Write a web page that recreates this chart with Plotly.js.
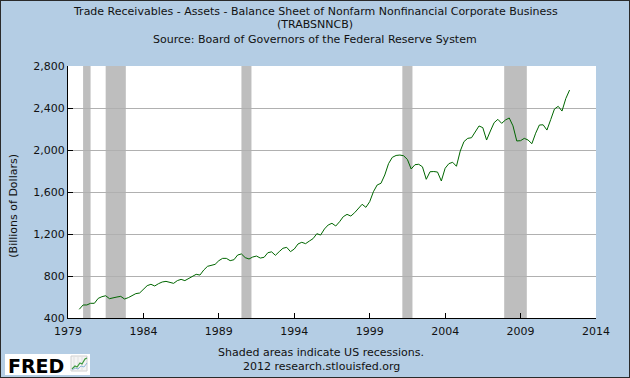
<!DOCTYPE html>
<html>
<head>
<meta charset="utf-8">
<script src="https://cdn.plot.ly/plotly-3.0.1.min.js"></script>
<style>
  html, body { margin: 0; padding: 0; background: #B4CDE4; }
  #chart { width: 628px; height: 376px; border: 1px solid #2a2a2a; }
</style>
</head>
<body>
<div id="chart"></div>
<script>
// ---- Data (quarterly, first quarter = 1979 Q4) ----
const firstYear = 1979;
const firstQuarter = 4;
const values = [
  483,
  524, 524, 540, 540,      // 1980
  587, 603, 612, 584,      // 1981
  594, 600, 606, 581,      // 1982
  594, 612, 632, 638,      // 1983
  676, 708, 721, 705,      // 1984
  727, 743, 749, 740,      // 1985
  730, 756, 768, 756,      // 1986
  778, 797, 816, 809,      // 1987
  857, 892, 898, 911,      // 1988
  946, 968, 968, 946,      // 1989
  955, 1000, 1010, 975,    // 1990
  962, 981, 990, 971,      // 1991
  978, 1022, 1030, 997,    // 1992
  1032, 1064, 1073, 1032,  // 1993
  1057, 1105, 1121, 1108,  // 1994
  1133, 1156, 1203, 1190,  // 1995
  1248, 1286, 1302, 1276,  // 1996
  1317, 1365, 1387, 1371,  // 1997
  1403, 1444, 1483, 1454,  // 1998
  1508, 1603, 1667, 1683,  // 1999
  1762, 1870, 1930, 1948,  // 2000
  1952, 1945, 1910, 1819,  // 2001
  1860, 1864, 1840, 1721,  // 2002
  1793, 1795, 1790, 1705,  // 2003
  1826, 1870, 1883, 1845,  // 2004
  1990, 2080, 2111, 2117,  // 2005
  2174, 2229, 2213, 2095,  // 2006
  2181, 2260, 2292, 2254,  // 2007
  2286, 2305, 2230, 2086,  // 2008
  2089, 2111, 2095, 2060,  // 2009
  2160, 2238, 2240, 2190,  // 2010
  2290, 2390, 2416, 2371,  // 2011
  2490, 2571              // 2012
];

const recessionStarts = ['1980-01-01', '1981-07-01', '1990-07-01', '2001-03-01', '2007-12-01'];
const recessionEnds   = ['1980-07-01', '1982-11-01', '1991-03-01', '2001-11-01', '2009-06-01'];

const xTickYears = [1979, 1984, 1989, 1994, 1999, 2004, 2009, 2014];
const yTickValues = [400, 800, 1200, 1600, 2000, 2400, 2800];
const yTickLabels = ['400', '800', '1,200', '1,600', '2,000', '2,400', '2,800'];

const titleLines = [
  'Trade Receivables - Assets - Balance Sheet of Nonfarm Nonfinancial Corporate Business',
  '(TRABSNNCB)',
  'Source: Board of Governors of the Federal Reserve System'
];
const footerLines = ['Shaded areas indicate US recessions.', '2012 research.stlouisfed.org'];
const yTitle = '(Billions of Dollars)';
const logoText = 'FRED';

// ---- Build dates ----
const dates = values.map((v, i) => {
  const q = (firstQuarter - 1) + i;
  const y = firstYear + Math.floor(q / 4);
  const m = (q % 4) * 3 + 1;
  return y + '-' + String(m).padStart(2, '0') + '-01';
});

// ---- pixel helpers (figure px -> paper) ----
const W = 628, H = 376, ML = 67, MR = 33, MT = 65, MB = 59;
const PW = W - ML - MR, PH = H - MT - MB;
const px = x => (x - ML) / PW;
const py = y => (H - MB - y) / PH;
const pathFrom = pts => pts.map((p, i) => (i ? 'L' : 'M') + px(p[0]).toFixed(5) + ',' + py(p[1]).toFixed(5)).join(' ');

const FONT = 'DejaVu Sans, Verdana, sans-serif';

const shapes = recessionStarts.map((s, i) => ({
  type: 'rect', xref: 'x', yref: 'paper', x0: s, x1: recessionEnds[i], y0: 0, y1: 1,
  fillcolor: '#BEBEBE', line: { width: 0 }, layer: 'between'
}));
// FRED logo box
shapes.push({
  type: 'rect', xref: 'paper', yref: 'paper',
  x0: px(4), x1: px(89), y0: py(353), y1: py(374),
  fillcolor: '#FFFFFF', line: { width: 0 }, layer: 'above'
});
// logo icon: faint frame + columns + two rising lines
shapes.push({
  type: 'rect', xref: 'paper', yref: 'paper',
  x0: px(70), x1: px(86), y0: py(355), y1: py(370),
  fillcolor: '#F4F4F4', line: { color: '#D0D0D0', width: 1 }, layer: 'above'
});
[73, 77, 81].forEach(cx => shapes.push({
  type: 'line', xref: 'paper', yref: 'paper',
  x0: px(cx), x1: px(cx), y0: py(356), y1: py(369),
  line: { color: '#E0E0E0', width: 1 }, layer: 'above'
}));
shapes.push({
  type: 'path', xref: 'paper', yref: 'paper', layer: 'above',
  path: pathFrom([[71, 368], [74, 365], [76, 366], [79, 362], [81, 363], [84, 358], [86, 357]]),
  line: { color: '#3C9A3C', width: 1.2 }
});
shapes.push({
  type: 'path', xref: 'paper', yref: 'paper', layer: 'above',
  path: pathFrom([[71, 369], [74, 367], [77, 368], [80, 365], [83, 366], [86, 362]]),
  line: { color: '#8FB8D8', width: 1 }
});

const annotations = [];
const titleY = [10.7, 24, 38.3];
titleLines.forEach((t, i) => annotations.push({
  text: t, xref: 'paper', yref: 'paper', x: px(314), y: py(titleY[i]),
  xanchor: 'center', yanchor: 'middle', showarrow: false,
  font: { family: FONT, size: 11, color: '#111' }
}));
const footY = [351, 365];
footerLines.forEach((t, i) => annotations.push({
  text: t, xref: 'paper', yref: 'paper', x: px(320), y: py(footY[i]),
  xanchor: 'center', yanchor: 'middle', showarrow: false,
  font: { family: FONT, size: 11, color: '#111' }
}));
annotations.push({
  text: yTitle, xref: 'paper', yref: 'paper', x: px(13), y: py(204.7),
  xanchor: 'center', yanchor: 'middle', textangle: -90, showarrow: false,
  font: { family: FONT, size: 11, color: '#111' }
});
annotations.push({
  text: '<b>' + logoText + '</b>', xref: 'paper', yref: 'paper', x: px(5), y: py(364.5),
  xanchor: 'left', yanchor: 'middle', showarrow: false,
  font: { family: 'DejaVu Sans, sans-serif', size: 19, color: '#000', weight: 'bold' }
});

const layout = {
  width: W, height: H,
  margin: { l: ML, r: MR, t: MT, b: MB, pad: 0 },
  paper_bgcolor: '#B4CDE4',
  plot_bgcolor: '#FFFFFF',
  showlegend: false,
  font: { family: FONT, size: 11, color: '#111' },
  xaxis: {
    type: 'date',
    range: [xTickYears[0] + '-01-01', xTickYears[xTickYears.length - 1] + '-01-01'],
    tickmode: 'array',
    tickvals: xTickYears.map(y => y + '-01-01'),
    ticktext: xTickYears.map(String),
    ticks: 'inside', ticklen: 5, tickcolor: '#000', tickwidth: 1,
    ticklabelstandoff: 3,
    showline: true, linecolor: '#000', linewidth: 1,
    showgrid: false, zeroline: false, fixedrange: true,
    tickfont: { family: FONT, size: 11, color: '#111' }
  },
  yaxis: {
    range: [yTickValues[0], yTickValues[yTickValues.length - 1]],
    tickmode: 'array', tickvals: yTickValues, ticktext: yTickLabels,
    ticks: 'inside', ticklen: 5, tickcolor: '#000', tickwidth: 1,
    showline: true, linecolor: '#000', linewidth: 1,
    showgrid: true, gridcolor: '#B0B0B0', gridwidth: 1,
    zeroline: false, fixedrange: true,
    tickfont: { family: FONT, size: 11, color: '#111' }
  },
  shapes: shapes,
  annotations: annotations
};

const trace = {
  type: 'scatter', mode: 'lines', x: dates, y: values,
  line: { color: '#006600', width: 1 },
  hoverinfo: 'x+y'
};

Plotly.newPlot('chart', [trace], layout, { displayModeBar: false, staticPlot: true });
</script>
</body>
</html>
